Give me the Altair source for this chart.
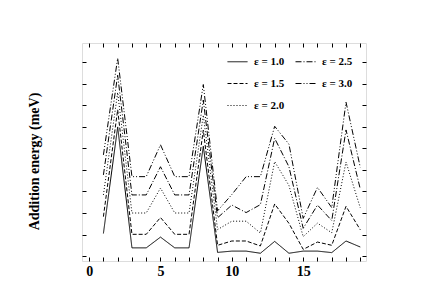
import altair as alt
import pandas as pd

x_vals = list(range(1, 20))
eps_labels = ["ε = 1.0", "ε = 1.5", "ε = 2.0", "ε = 2.5", "ε = 3.0"]
e10 = [1.05, 6.0, 0.38, 0.38, 0.88, 0.38, 0.38, 5.1, 0.17, 0.23, 0.23, 0.13, 0.68, 0.13, 0.23, 0.23, 0.16, 0.70, 0.42]
e15 = [1.83, 6.8, 1.01, 1.01, 1.79, 1.01, 1.01, 5.85, 0.50, 0.70, 0.70, 0.47, 2.42, 1.52, 0.31, 0.65, 0.50, 2.31, 1.22]
e20 = [2.84, 7.6, 2.0, 2.0, 3.16, 2.0, 2.0, 6.55, 1.23, 1.62, 1.62, 1.07, 4.39, 3.28, 0.90, 1.53, 1.08, 4.37, 2.24]
e25 = [3.77, 8.4, 2.84, 2.84, 4.15, 2.84, 2.84, 7.25, 1.78, 2.37, 2.02, 2.39, 5.47, 4.15, 1.29, 2.37, 1.65, 5.86, 3.11]
e30 = [4.70, 9.19, 3.69, 3.69, 5.17, 3.69, 3.69, 7.97, 2.10, 2.86, 3.69, 3.69, 6.03, 5.2, 1.75, 3.19, 2.25, 7.15, 4.12]
series = [e10, e15, e20, e25, e30]

x_ticks = list(range(0, 20))
y_ticks = list(range(0, 10))

rows = []
for lab, vals in zip(eps_labels, series):
    for xv, yv in zip(x_vals, vals):
        rows.append({"n": xv, "E": yv, "eps": lab})
df = pd.DataFrame(rows)

dash_range = [[1, 0], [4, 2], [1, 2], [6, 2, 1, 2], [6, 2, 1, 2, 1, 2]]

xscale = alt.Scale(domain=[-0.5, 19.4], nice=False, zero=False)
yscale = alt.Scale(domain=[-0.23, 9.9], nice=False, zero=False)
FONT = "Liberation Serif"

lines = alt.Chart(df).mark_line(color="black", strokeWidth=1).encode(
    x=alt.X("n:Q", scale=xscale,
            axis=alt.Axis(orient="bottom", values=x_ticks, domain=False, grid=False,
                          tickSize={"expr": "-4"}, tickColor="black",
                          labelExpr="datum.value % 5 === 0 ? datum.label : ''",
                          labelFont=FONT, labelFontSize=14, labelFontWeight="bold",
                          labelColor="black", labelPadding=7, title=None)),
    y=alt.Y("E:Q", scale=yscale,
            axis=alt.Axis(orient="left", values=y_ticks, domain=False, grid=False,
                          tickSize={"expr": "-4"}, tickColor="black", labels=False,
                          title="Addition energy (meV)", titleFont=FONT, titleFontSize=14,
                          titleFontWeight="bold", titleColor="black", titlePadding=40,
                          titleY=118)),
    strokeDash=alt.StrokeDash("eps:N",
                              scale=alt.Scale(domain=eps_labels, range=dash_range),
                              legend=alt.Legend(orient="none", legendX=145, legendY=8,
                                                columns=2, title=None,
                                                symbolType="stroke", symbolSize=400,
                                                symbolStrokeColor="black", symbolStrokeWidth=1,
                                                labelFont=FONT, labelFontSize=11,
                                                labelFontWeight="bold", labelColor="black",
                                                labelOffset=6, rowPadding=6, columnPadding=8)),
    detail="eps:N",
)

mirror = alt.Chart(df).mark_line(opacity=0).encode(
    x=alt.X("n:Q", scale=xscale,
            axis=alt.Axis(orient="top", values=x_ticks, domain=False, grid=False,
                          tickSize={"expr": "-4"}, tickColor="black", labels=False, title=None)),
    y=alt.Y("E:Q", scale=yscale,
            axis=alt.Axis(orient="right", values=y_ticks, domain=False, grid=False,
                          tickSize={"expr": "-4"}, tickColor="black", labels=False, title=None)),
    detail="eps:N",
)

chart = alt.layer(mirror, lines).properties(
    width=284, height=218,
    autosize=alt.AutoSizeParams(type="none"),
    padding={"left": 74, "top": 35, "right": 60, "bottom": 17},
).configure_view(stroke="black", strokeWidth=1).configure(background="white")

chart.save("out.html", embed_options={"renderer": "svg", "actions": False})
